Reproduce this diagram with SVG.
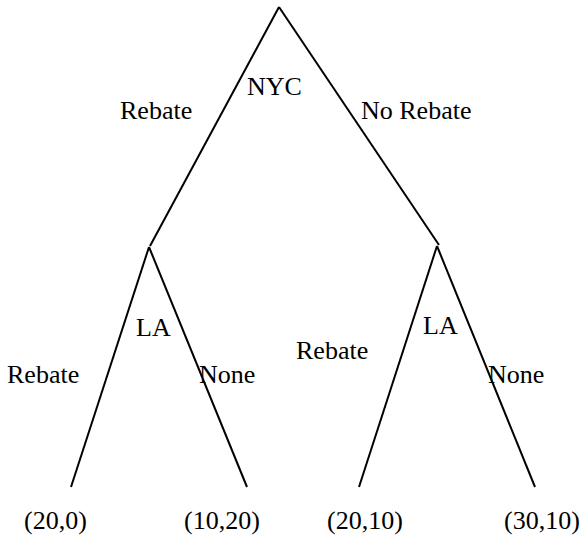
<svg xmlns="http://www.w3.org/2000/svg" width="582" height="535" viewBox="0 0 582 535">
<style>
  text { font-family: "Liberation Serif", Tinos, "Times New Roman", Times, "DejaVu Serif", serif; font-size: 26px; fill: #000; }
  .edge { stroke: #000; stroke-width: 2; fill: none; stroke-linecap: butt; }
</style>
<rect width="582" height="535" fill="#fff"/>
<g id="connectors">
  <line class="edge" x1="279" y1="7" x2="150" y2="246"/>
  <line class="edge" x1="279" y1="7" x2="439" y2="245"/>
  <line class="edge" x1="149" y1="247" x2="71" y2="487"/>
  <line class="edge" x1="149" y1="247" x2="247" y2="487"/>
  <line class="edge" x1="437" y1="246" x2="359" y2="487"/>
  <line class="edge" x1="437" y1="246" x2="535" y2="487"/>
</g>
<g id="edge-labels" font-family="Liberation Serif, serif">
  <text x="120" y="119">Rebate</text>
  <text x="361" y="119">No Rebate</text>
  <text x="7" y="383">Rebate</text>
  <text x="199" y="383">None</text>
  <text x="296" y="359">Rebate</text>
  <text x="488" y="383">None</text>
</g>
<g id="node-nyc"><text x="247" y="95">NYC</text></g>
<g id="node-la-left"><text x="136" y="336">LA</text></g>
<g id="node-la-right"><text x="423" y="334">LA</text></g>
<g id="leaf-1"><text x="24" y="529">(20,0)</text></g>
<g id="leaf-2"><text x="184" y="529">(10,20)</text></g>
<g id="leaf-3"><text x="327" y="529">(20,10)</text></g>
<g id="leaf-4"><text x="504" y="529">(30,10)</text></g>
</svg>
